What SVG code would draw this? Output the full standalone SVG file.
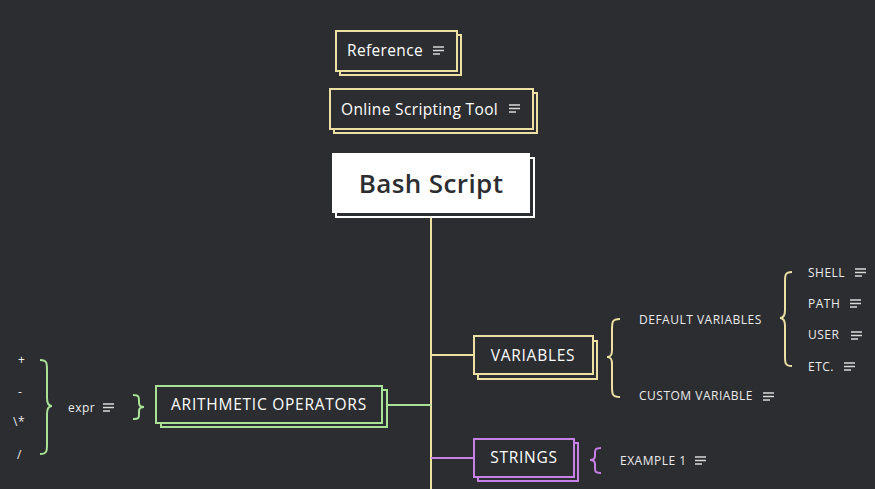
<svg xmlns="http://www.w3.org/2000/svg" width="875" height="489" viewBox="0 0 875 489">
<defs>
<style>
.bg{fill:#2c2d31}
.y{stroke:#ebdfa3}
.g{stroke:#a9e196}
.p{stroke:#c780e6}
.box{fill:#2c2d31;stroke-width:2}
.sh{fill:#2c2d31;stroke-width:2}
.ln{fill:none;stroke-width:2}
.t{font-family:"Open Sans","Liberation Sans",sans-serif;fill:#ffffff;font-size:15.5px;letter-spacing:0.35px}
.c{letter-spacing:0.75px}
.s{font-family:"Open Sans","Liberation Sans",sans-serif;fill:#ebebeb;font-size:12px;letter-spacing:0.5px}
.ic{stroke:#d8d8d8;stroke-width:1.6;fill:none}
</style>
<g id="menu"><path class="ic" d="M0 0H11M0 3.5H11M0 7H7"/></g>
</defs>
<rect class="bg" width="875" height="489"/>
<g id="connectors">
<path class="ln y" d="M431 217V489M431 355H473"/>
<path class="ln g" d="M387 405H431"/>
<path class="ln p" d="M431 458H473"/>
<path class="ln y" d="M620 319C612 319 612 322 612 330V350C612 355 611 357 607 357C611 357 612 359 612 364V386C612 394 612 397 620 397"/>
<path class="ln y" d="M792 272C785 272 785 275 785 282V310C785 315 784 318 780 318C784 318 785 321 785 326V356C785 363 785 366 792 366"/>
<path class="ln g" d="M40 360C47 360 47 363 47 370V398C47 403 48 406 52 406C48 406 47 409 47 414V444C47 451 47 454 40 454"/>
<path class="ln g" d="M133 395C139 395 139 397 139 401V403C139 405 140 407 144 407C140 407 139 409 139 411V414C139 418 139 419 133 419"/>
<path class="ln p" d="M601 448C595 448 595 450 595 453V456C595 458 594 460 590 460C594 460 595 462 595 464V468C595 471 595 473 601 473"/>
</g>
<g id="reference">
<rect class="sh y" x="340" y="35" width="121" height="40"/>
<rect class="box y" x="336" y="31" width="121" height="40"/>
<text class="t" x="347" y="56">Reference</text>
<use href="#menu" x="433" y="47"/>
</g>
<g id="online-tool">
<rect class="sh y" x="334" y="93" width="203" height="40"/>
<rect class="box y" x="330" y="89" width="203" height="40"/>
<text class="t" x="341" y="115">Online Scripting Tool</text>
<use href="#menu" x="509" y="105"/>
</g>
<g id="root">
<rect x="336" y="158" width="198" height="59" fill="none" stroke="#ffffff" stroke-width="2"/>
<rect x="332" y="153" width="198" height="60" fill="#ffffff"/>
<text x="431" y="193" text-anchor="middle" font-family="'Open Sans','Liberation Sans',sans-serif" font-size="26" font-weight="600" letter-spacing="0.4" fill="#2c2d31">Bash Script</text>
</g>
<g id="variables">
<rect class="sh y" x="478" y="341" width="119" height="38"/>
<rect class="box y" x="474" y="336" width="119" height="38"/>
<text class="t c" x="533" y="361" text-anchor="middle">VARIABLES</text>
</g>
<g id="strings">
<rect class="sh p" x="478" y="443" width="100" height="38"/>
<rect class="box p" x="474" y="439" width="100" height="38"/>
<text class="t c" x="524" y="463" text-anchor="middle">STRINGS</text>
</g>
<g id="arithmetic">
<rect class="sh g" x="161" y="390" width="226" height="37"/>
<rect class="box g" x="156" y="386" width="226" height="37"/>
<text class="t c" x="269" y="410" text-anchor="middle">ARITHMETIC OPERATORS</text>
</g>
<g id="default-variables"><text class="s" x="639" y="324">DEFAULT VARIABLES</text></g>
<g id="custom-variable"><text class="s" x="639" y="400">CUSTOM VARIABLE</text><use href="#menu" x="763" y="393"/></g>
<g id="shell"><text class="s" x="808" y="277">SHELL</text><use href="#menu" x="855" y="269"/></g>
<g id="path"><text class="s" x="808" y="308">PATH</text><use href="#menu" x="850" y="300"/></g>
<g id="user"><text class="s" x="808" y="339">USER</text><use href="#menu" x="851" y="332"/></g>
<g id="etc"><text class="s" x="808" y="371">ETC.</text><use href="#menu" x="844" y="363"/></g>
<g id="example1"><text class="s" x="620" y="465">EXAMPLE 1</text><use href="#menu" x="695" y="457"/></g>
<g id="expr"><text class="s" x="68" y="412">expr</text><use href="#menu" x="103" y="404"/></g>
<g id="plus"><text class="s" x="18" y="364" font-size="10">+</text></g>
<g id="minus"><text class="s" x="18" y="396" font-size="10">-</text></g>
<g id="mult"><text class="s" x="13" y="426">\*</text></g>
<g id="div"><text class="s" x="17" y="459">/</text></g>
</svg>
